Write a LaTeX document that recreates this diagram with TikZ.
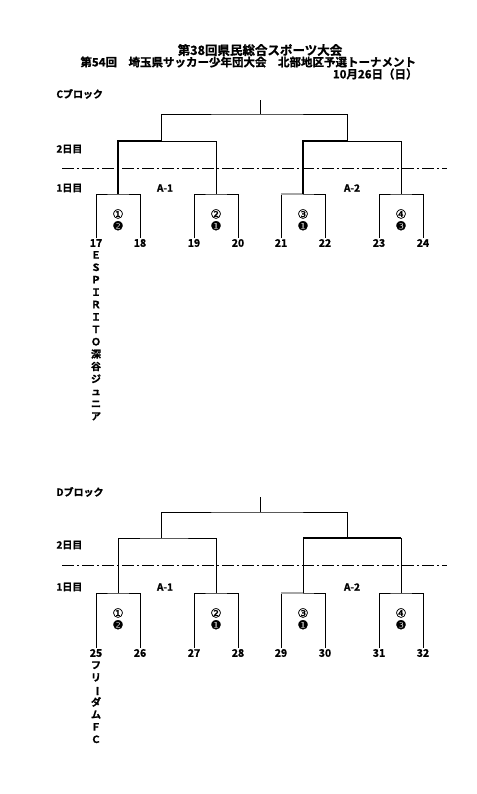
\documentclass[tikz,border=0pt]{standalone}
\usepackage{fontspec}
\setmainfont{Noto Sans CJK JP Bold}[FakeBold=1.2]
\newfontfamily\symfont{DejaVu Sans}[FakeBold=0.8]
\usepackage{tikz}
\usetikzlibrary{positioning}

\begin{document}
\begin{tikzpicture}[x=1pt, y=-1pt, line width=0.9pt,
  win/.style={line width=1.7pt},
  gryline/.style={line width=1.7pt, gray!70},
  daysep/.style={line width=0.8pt, dash pattern=on 12pt off 3pt on 2pt off 3pt},
  ttl/.style={font=\fontsize{11.5}{12}\selectfont, inner sep=0pt},
  lbl/.style={font=\fontsize{10}{12}\selectfont, inner sep=0pt},
  num/.style={font=\fontsize{10.5}{12}\selectfont, inner sep=0.5pt},
  mk/.style={font=\symfont\fontsize{12.5}{12.5}\selectfont, inner sep=0pt},
  vname/.style={font=\fontsize{10}{12.4}\selectfont, align=center, inner sep=0pt},
]
\useasboundingbox (0,0) rectangle (476,794);

% title
\node[ttl, font=\fontsize{12.5}{12}\selectfont] (t1) at (260,50) {第38回県民総合スポーツ大会};
\node[ttl, anchor=west] (t2) at (80,62) {第54回　埼玉県サッカー少年団大会　北部地区予選トーナメント};
\node[ttl, anchor=east] (t3) at (418,74) {10月26日（日）};

% C block
\node[lbl, anchor=west] (cblk) at (56,94) {Cブロック};
\node[lbl, anchor=west] (c2d) at (56,149) {2日目};
\node[lbl, anchor=west] (c1d) at (56,188) {1日目};
\coordinate (cs1) at (62,168);
\coordinate (cs2) at (447,168);
\draw[daysep] (cs1) -- (cs2);
\node[lbl] (ca1) at (165,188) {A-1};
\node[lbl] (ca2) at (352,188) {A-2};

\node[num] (n17) at (96,243) {17};
\node[num] (n18) at (140,243) {18};
\node[num] (n19) at (194,243) {19};
\node[num] (n20) at (238,243) {20};
\node[num] (n21) at (281,243) {21};
\node[num] (n22) at (325,243) {22};
\node[num] (n23) at (379,243) {23};
\node[num] (n24) at (423,243) {24};
\node[vname, below=3pt of n17] (v17) {Ｅ\\Ｓ\\Ｐ\\Ｉ\\Ｒ\\Ｉ\\Ｔ\\Ｏ\\深\\谷\\ジ\\ュ\\ニ\\ア};

\coordinate (ck1) at (118,194);
\coordinate (ck2) at (216,194);
\coordinate (ck3) at (303,194);
\coordinate (ck4) at (401,194);
\coordinate (c12) at (161,141);
\coordinate (c34) at (347,141);
\coordinate (ctop) at (260,114);
\coordinate (cwin) at (260,100);

\draw (n17) |- (ck1) -| (n18);
\draw (n19) |- (ck2) -| (n20);
\draw (n21) |- (ck3) -| (n22);
\draw (n23) |- (ck4) -| (n24);
\draw[gryline] (281,194) -- (ck3);
\draw[win] (ck1) |- (c12);
\draw (c12) -| (ck2);
\draw[win] (ck3) |- (c34);
\draw (c34) -| (ck4);
\draw (c12) |- (ctop) -| (c34);
\draw (ctop) -- (cwin);

\node[mk] (c1a) at (118,214) {①};
\node[mk, below=1.5pt of c1a] (c1b) {❷};
\node[mk] (c2a) at (216,214) {②};
\node[mk, below=1.5pt of c2a] (c2b) {❶};
\node[mk] (c3a) at (303,214) {③};
\node[mk, below=1.5pt of c3a] (c3b) {❶};
\node[mk] (c4a) at (401,214) {④};
\node[mk, below=1.5pt of c4a] (c4b) {❸};

% D block
\node[lbl, anchor=west] (dblk) at (56,492) {Dブロック};
\node[lbl, anchor=west] (d2d) at (56,545) {2日目};
\node[lbl, anchor=west] (d1d) at (56,587) {1日目};
\coordinate (ds1) at (62,565);
\coordinate (ds2) at (447,565);
\draw[daysep] (ds1) -- (ds2);
\node[lbl] (da1) at (165,587) {A-1};
\node[lbl] (da2) at (352,587) {A-2};

\node[num] (n25) at (96,653) {25};
\node[num] (n26) at (140,653) {26};
\node[num] (n27) at (194,653) {27};
\node[num] (n28) at (238,653) {28};
\node[num] (n29) at (281,653) {29};
\node[num] (n30) at (325,653) {30};
\node[num] (n31) at (379,653) {31};
\node[num] (n32) at (423,653) {32};
\node[vname, below=3pt of n25] (v25) {フ\\リ\\\rotatebox[origin=c]{-90}{ー}\\ダ\\ム\\Ｆ\\Ｃ};

\coordinate (dk1) at (118,593);
\coordinate (dk2) at (216,593);
\coordinate (dk3) at (303,593);
\coordinate (dk4) at (401,593);
\coordinate (d12) at (161,538);
\coordinate (d34) at (347,538);
\coordinate (dtop) at (260,512);
\coordinate (dwin) at (260,497);

\draw (n25) |- (dk1) -| (n26);
\draw (n27) |- (dk2) -| (n28);
\draw (n29) |- (dk3) -| (n30);
\draw (n31) |- (dk4) -| (n32);
\draw[gryline] (281,593) -- (dk3);
\draw (dk1) |- (d12) -| (dk2);
\draw (dk3) |- (d34) -| (dk4);
\draw[win] (dk3 |- d34) -- (dk4 |- d34);
\draw (d12) |- (dtop) -| (d34);
\draw (dtop) -- (dwin);

\node[mk] (d1a) at (118,613) {①};
\node[mk, below=1.5pt of d1a] (d1b) {❷};
\node[mk] (d2a) at (216,613) {②};
\node[mk, below=1.5pt of d2a] (d2b) {❶};
\node[mk] (d3a) at (303,613) {③};
\node[mk, below=1.5pt of d3a] (d3b) {❶};
\node[mk] (d4a) at (401,613) {④};
\node[mk, below=1.5pt of d4a] (d4b) {❸};
\end{tikzpicture}
\end{document}
